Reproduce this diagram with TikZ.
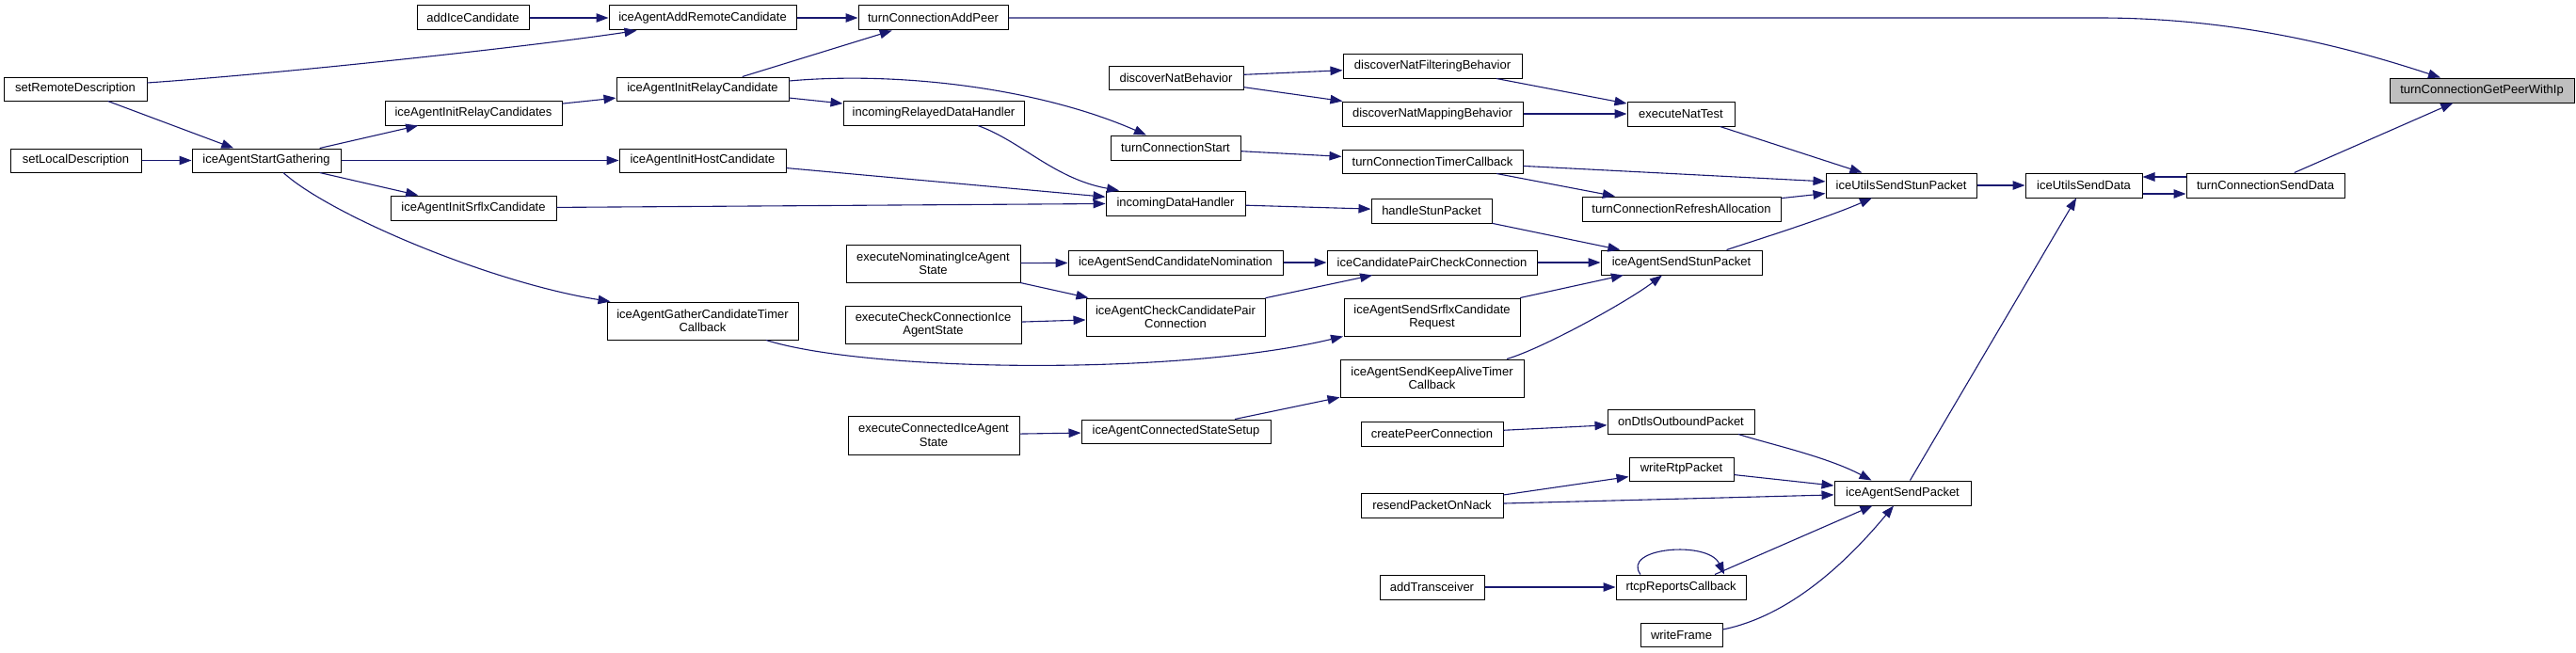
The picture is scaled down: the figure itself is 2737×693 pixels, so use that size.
\documentclass[tikz,border=0pt]{standalone}
\usepackage{fontspec}
\setmainfont{Liberation Sans}
\usetikzlibrary{arrows.meta}
\definecolor{edgec}{HTML}{191970}
\definecolor{rootfill}{HTML}{BFBFBF}
\tikzset{
  box/.style={draw=black, line width=1pt, fill=white, rectangle, inner xsep=2pt, inner ysep=0pt,
    align=center, font=\fontsize{13}{14.5}\selectfont, text=black},
  edge/.style={draw=edgec, line width=1.1pt, -{Triangle[length=13pt,width=9.5pt]}, edgec}
}
\newcommand{\bx}[6]{\node[box, minimum width=#4pt, minimum height=#5pt] (#1) at (#2,#3) {#6};}
\begin{document}
\begin{tikzpicture}[x=1pt,y=-1pt]
\useasboundingbox (0,0) rectangle (2737,693);
% nodes
\bx{addice}{502.5}{19}{119}{26}{addIceCandidate}
\bx{addremote}{746.5}{19}{199}{26}{iceAgentAddRemoteCandidate}
\bx{addpeer}{991.5}{19}{159}{26}{turnConnectionAddPeer}
\node[box, fill=rootfill, minimum width=196pt, minimum height=26pt] (getpeer) at (2637,96) {turnConnectionGetPeerWithIp};
\bx{setremote}{80}{94.5}{152}{25}{setRemoteDescription}
\bx{relaycands}{503}{120}{188}{26}{iceAgentInitRelayCandidates}
\bx{setlocal}{80.5}{170.5}{139}{25}{setLocalDescription}
\bx{startgather}{283}{170.5}{158}{25}{iceAgentStartGathering}
\bx{srflxcand}{503}{221}{176}{26}{iceAgentInitSrflxCandidate}
\bx{gathertimer}{746.5}{341}{203}{40}{iceAgentGatherCandidateTimer\\Callback}
\bx{relaycand}{746.5}{94.5}{183}{25}{iceAgentInitRelayCandidate}
\bx{hostcand}{746.5}{170.5}{177}{25}{iceAgentInitHostCandidate}
\bx{natbeh}{1249.5}{82.5}{143}{25}{discoverNatBehavior}
\bx{relayedhandler}{992}{120}{192}{26}{incomingRelayedDataHandler}
\bx{turnstart}{1249}{157}{138}{26}{turnConnectionStart}
\bx{datahandler}{1249}{216}{148}{26}{incomingDataHandler}
\bx{execnom}{991.5}{280}{185}{40}{executeNominatingIceAgent\\State}
\bx{sendnom}{1249}{279}{228}{26}{iceAgentSendCandidateNomination}
\bx{checkpair}{1249}{337}{190}{40}{iceAgentCheckCandidatePair\\Connection}
\bx{execcheck}{991.5}{345}{187}{40}{executeCheckConnectionIce\\AgentState}
\bx{execconn}{992}{462.5}{182}{41}{executeConnectedIceAgent\\State}
\bx{connsetup}{1249.5}{458.5}{201}{25}{iceAgentConnectedStateSetup}
\bx{natfilter}{1522}{70.5}{190}{25}{discoverNatFilteringBehavior}
\bx{natmap}{1522}{121}{192}{26}{discoverNatMappingBehavior}
\bx{nattest}{1786}{121}{114}{26}{executeNatTest}
\bx{timercb}{1522}{171.5}{192}{25}{turnConnectionTimerCallback}
\bx{utilsstun}{2020}{197}{160}{26}{iceUtilsSendStunPacket}
\bx{refresh}{1786.5}{222}{211}{26}{turnConnectionRefreshAllocation}
\bx{handlestun}{1521}{224}{128}{26}{handleStunPacket}
\bx{pairconn}{1521.5}{279}{223}{26}{iceCandidatePairCheckConnection}
\bx{sendstun}{1786.5}{279}{171}{26}{iceAgentSendStunPacket}
\bx{srflxreq}{1521.5}{337}{187}{40}{iceAgentSendSrflxCandidate\\Request}
\bx{keepalive}{1521.5}{402}{195}{40}{iceAgentSendKeepAliveTimer\\Callback}
\bx{createpc}{1521.5}{461}{151}{26}{createPeerConnection}
\bx{ondtls}{1786}{448}{156}{26}{onDtlsOutboundPacket}
\bx{writertp}{1786.5}{498.5}{111}{25}{writeRtpPacket}
\bx{resend}{1521.5}{537}{151}{26}{resendPacketOnNack}
\bx{sendpacket}{2021.5}{524}{145}{26}{iceAgentSendPacket}
\bx{addtrans}{1521.5}{624}{111}{26}{addTransceiver}
\bx{rtcp}{1786}{624}{138}{26}{rtcpReportsCallback}
\bx{writeframe}{1786.5}{674.5}{87}{25}{writeFrame}
\bx{utilsdata}{2214}{197}{124}{26}{iceUtilsSendData}
\bx{senddata}{2407}{197}{168}{26}{turnConnectionSendData}
% edges
\draw[edge] (addpeer.east) -- (2230,19) .. controls (2380,19) and (2500,52) .. ([xshift=-44pt]getpeer.north);
\draw[edge] (senddata) -- (getpeer);
\draw[edge] ([yshift=9pt]senddata.west) -- ([yshift=9pt]utilsdata.east);
\draw[edge] ([yshift=-9pt]utilsdata.east) -- ([yshift=-9pt]senddata.west);
\draw[edge] (utilsstun) -- (utilsdata);
\draw[edge] (sendpacket) -- (utilsdata);
\draw[edge] (addremote) -- (addpeer);
\draw[edge] (relaycand) -- (addpeer);
\draw[edge] (addice) -- (addremote);
\draw[edge] ([yshift=6.5pt]setremote.east) .. controls (300,78) and (560,50) .. ([xshift=-70pt]addremote.south);
\draw[edge] (setremote) -- (startgather);
\draw[edge] (setlocal) -- (startgather);
\draw[edge] (startgather) -- (relaycands);
\draw[edge] (startgather) -- (hostcand);
\draw[edge] (startgather) -- (srflxcand);
\draw[edge] ([xshift=18pt]startgather.south) .. controls (350,228) and (520,300) .. ([xshift=4pt]gathertimer.north west);
\draw[edge] (relaycands) -- (relaycand);
\draw[edge] (relaycand) -- (relayedhandler);
\draw[edge] ([yshift=8.5pt]relaycand.east) .. controls (950,76) and (1100,92) .. ([xshift=-31pt]turnstart.north);
\draw[edge] ([xshift=47pt]relayedhandler.south) .. controls (1085,150) and (1120,190) .. ([xshift=-60pt]datahandler.north);
\draw[edge] (hostcand) -- (datahandler);
\draw[edge] (srflxcand) -- (datahandler);
\draw[edge] (natbeh) -- (natfilter);
\draw[edge] (natbeh) -- (natmap);
\draw[edge] (natfilter) -- (nattest);
\draw[edge] (natmap) -- (nattest);
\draw[edge] (nattest) -- (utilsstun);
\draw[edge] (turnstart) -- (timercb);
\draw[edge] (timercb) -- (utilsstun);
\draw[edge] (timercb) -- (refresh);
\draw[edge] (refresh) -- (utilsstun);
\draw[edge] (datahandler) -- (handlestun);
\draw[edge] (handlestun) -- (sendstun);
\draw[edge] ([xshift=48pt]sendstun.north) .. controls (1860,257) and (1940,232) .. ([xshift=-31pt]utilsstun.south);
\draw[edge] (execnom) -- (sendnom);
\draw[edge] (execnom) -- (checkpair);
\draw[edge] (execcheck) -- (checkpair);
\draw[edge] (sendnom) -- (pairconn);
\draw[edge] (checkpair) -- (pairconn);
\draw[edge] (pairconn) -- (sendstun);
\draw[edge] (srflxreq) -- (sendstun);
\draw[edge] ([xshift=79.5pt]keepalive.north) .. controls (1640,370) and (1730,320) .. ([xshift=-20.5pt]sendstun.south);
\draw[edge] ([xshift=67.5pt]gathertimer.south) .. controls (920,395) and (1250,400) .. ([xshift=-94.5pt]srflxreq.south);
\draw[edge] (execconn) -- (connsetup);
\draw[edge] (connsetup) -- (keepalive);
\draw[edge] (createpc) -- (ondtls);
\draw[edge] ([xshift=61pt]ondtls.south) .. controls (1880,472) and (1940,485) .. ([xshift=-33pt]sendpacket.north);
\draw[edge] (resend) -- (writertp);
\draw[edge] (resend) -- (sendpacket);
\draw[edge] (writertp) -- (sendpacket);
\draw[edge] (addtrans) -- (rtcp);
\draw[edge] ([xshift=-43pt]rtcp.north) .. controls (1722,582) and (1815,574) .. ([xshift=46pt]rtcp.north);
\draw[edge] ([xshift=36pt]rtcp.north) -- ([xshift=-32pt]sendpacket.south);
\draw[edge] ([yshift=5.5pt]writeframe.east) .. controls (1900,655) and (1960,600) .. ([xshift=-9.5pt]sendpacket.south);
\end{tikzpicture}
\end{document}
